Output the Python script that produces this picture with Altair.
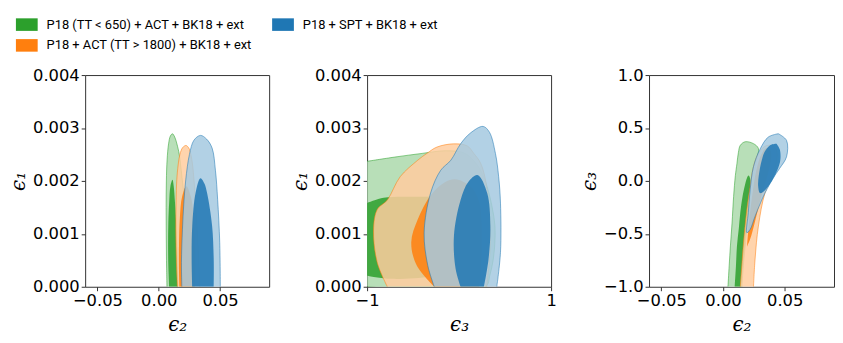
import altair as alt
import pandas as pd

# ---------------- series ----------------
SERIES = [
    "P18 (TT < 650) + ACT + BK18 + ext",
    "P18 + SPT + BK18 + ext",
    "P18 + ACT (TT > 1800) + BK18 + ext",
]
FULL = ["#2ca02c", "#1f77b4", "#ff7f0e"]
LIGHT = ["#abd9ab", "#a5c9e1", "#ffcc9f"]
GREEN, BLUE, ORANGE = 0, 1, 2

# ---------------- panel 1 : eps2 (x) vs eps1 (y) ----------------
P1_GREEN_OUTER = [(0.0067, 0), (0.0063, 0.0005), (0.0061, 0.001), (0.0060, 0.0015), (0.0062, 0.002),
                  (0.0068, 0.0024), (0.0080, 0.0027), (0.0095, 0.00285), (0.0112, 0.00289), (0.0130, 0.00283),
                  (0.0148, 0.0027), (0.0167, 0.0025), (0.0193, 0.002), (0.0218, 0.0015), (0.0240, 0.001),
                  (0.0258, 0.0005), (0.0273, 0)]
P1_GREEN_INNER = [(0.0085, 0), (0.0078, 0.0004), (0.0076, 0.0008), (0.0078, 0.0012), (0.0085, 0.0016),
                  (0.0095, 0.0019), (0.0112, 0.00202), (0.0122, 0.0019), (0.0132, 0.0016), (0.0142, 0.0012),
                  (0.0150, 0.0008), (0.0155, 0.0004), (0.0158, 0)]
P1_ORANGE_OUTER = [(0.0152, 0), (0.0144, 0.00046), (0.0139, 0.00108), (0.0141, 0.0016), (0.0147, 0.00202),
                   (0.0158, 0.0023), (0.0172, 0.0025), (0.0195, 0.00263), (0.0222, 0.00267), (0.0245, 0.00262),
                   (0.0262, 0.0025), (0.0276, 0.0023), (0.0288, 0.002), (0.0302, 0.0015), (0.0314, 0.00108),
                   (0.0327, 0.00046), (0.0335, 0)]
P1_ORANGE_INNER = [(0.0168, 0), (0.0165, 0.0003), (0.0165, 0.0008), (0.0172, 0.0013), (0.0190, 0.0017),
                   (0.0225, 0.0019), (0.0262, 0.0017), (0.0285, 0.0013), (0.0295, 0.0008), (0.0298, 0.0004),
                   (0.0295, 0)]
P1_BLUE_OUTER = [(0.0188, 0), (0.0185, 0.00046), (0.0193, 0.00108), (0.0205, 0.0016), (0.0220, 0.00202),
                 (0.0250, 0.0025), (0.0287, 0.00277), (0.0340, 0.00286), (0.0390, 0.00279), (0.0435, 0.00262),
                 (0.0462, 0.0022), (0.0480, 0.00165), (0.0497, 0.00084), (0.0502, 0)]
P1_BLUE_INNER = [(0.0273, 0), (0.0268, 0.00052), (0.0273, 0.00115), (0.0300, 0.00177), (0.0340, 0.00205),
                 (0.0372, 0.00195), (0.0394, 0.00177), (0.0435, 0.00115), (0.0448, 0.00052), (0.0448, 0)]

# ---------------- panel 2 : eps3 (x) vs eps1 (y) ----------------
P2_GREEN_OUTER = [(-1.0, 0.00237), (-0.7, 0.00245), (-0.4, 0.00252), (-0.15, 0.00257), (0.05, 0.00253),
                  (0.16, 0.00238), (0.24, 0.00218), (0.305, 0.00189), (0.36, 0.0015), (0.39, 0.00115),
                  (0.388, 0.0008), (0.37, 0.0005), (0.335, 0.00022), (0.286, 0), (-1.0, 0)]
P2_GREEN_INNER = [(-1.0, 0.00158), (-0.82, 0.00168), (-0.46, 0.0017), (-0.2, 0.0017), (0.0, 0.00162),
                  (0.1, 0.0014), (0.15, 0.001), (0.12, 0.0006), (0.0, 0.00035), (-0.3, 0.0002),
                  (-0.74, 0.00015), (-1.0, 0.00021)]
P2_ORANGE_OUTER = [(-0.78, 0), (-0.89, 0.00046), (-0.93, 0.00108), (-0.89, 0.00146), (-0.78, 0.00164),
                   (-0.64, 0.00208), (-0.45, 0.00239), (-0.35, 0.00252), (-0.24, 0.00264), (-0.06, 0.0027),
                   (0.09, 0.00266), (0.16, 0.00252), (0.23, 0.00235), (0.28, 0.00208), (0.32, 0.00158),
                   (0.34, 0.00096), (0.325, 0.0004), (0.3, 0)]
P2_ORANGE_INNER = [(-0.27, 0), (-0.46, 0.0004), (-0.52, 0.00084), (-0.45, 0.00127), (-0.3, 0.00175),
                   (-0.15, 0.00198), (-0.05, 0.00203), (0.05, 0.00198), (0.15, 0.00185), (0.22, 0.0016),
                   (0.245, 0.0012), (0.245, 0.0006), (0.23, 0.0002), (0.22, 0)]
P2_BLUE_OUTER = [(-0.27, 0), (-0.34, 0.0004), (-0.38, 0.00102), (-0.31, 0.00177), (-0.2, 0.0022),
                 (-0.09, 0.00239), (0.016, 0.0027), (0.12, 0.0029), (0.26, 0.00303), (0.33, 0.00292),
                 (0.395, 0.00252), (0.43, 0.00208), (0.45, 0.00158), (0.45, 0.00065), (0.41, 0)]
P2_BLUE_INNER = [(0.016, 0), (-0.038, 0.00034), (-0.056, 0.00096), (0.016, 0.00164), (0.1, 0.00198),
                 (0.2, 0.00211), (0.305, 0.00177), (0.34, 0.00115), (0.32, 0.00052), (0.27, 0)]

# ---------------- panel 3 : eps2 (x) vs eps3 (y) ----------------
P3_GREEN_OUTER = [(0.004, -1.0), (0.005, -0.8), (0.006, -0.614), (0.0073, -0.4), (0.0086, -0.147),
                  (0.0100, 0.05), (0.0113, 0.165), (0.0125, 0.27), (0.0140, 0.336), (0.0180, 0.37),
                  (0.0247, 0.352), (0.0287, 0.306), (0.0273, 0.196), (0.0247, 0.009), (0.0207, -0.302),
                  (0.0180, -0.614), (0.0165, -0.8), (0.0153, -1.0)]
P3_GREEN_INNER = [(0.0095, -1.0), (0.0105, -0.8), (0.0113, -0.614), (0.0128, -0.45), (0.0140, -0.302),
                  (0.0158, -0.15), (0.0175, -0.053), (0.0195, 0.03), (0.0207, 0.05), (0.0220, 0.02),
                  (0.0220, -0.1), (0.0207, -0.302), (0.0190, -0.45), (0.0175, -0.614), (0.0160, -0.8),
                  (0.0148, -1.0)]
P3_ORANGE_OUTER = [(0.0140, -1.0), (0.0152, -0.8), (0.0166, -0.582), (0.0193, -0.271), (0.0220, -0.053),
                   (0.0247, 0.134), (0.0287, 0.259), (0.0340, 0.327), (0.0394, 0.336), (0.0434, 0.29),
                   (0.0420, 0.103), (0.0340, -0.115), (0.0287, -0.427), (0.0260, -0.738), (0.0247, -1.0)]
P3_ORANGE_INNER = [(0.0195, -0.62), (0.0210, -0.4), (0.0235, -0.15), (0.0270, 0.1), (0.0310, 0.25),
                   (0.0350, 0.31), (0.0380, 0.30), (0.0390, 0.22), (0.0360, 0.05), (0.0310, -0.15),
                   (0.0260, -0.38), (0.0220, -0.55), (0.0195, -0.62)]
P3_BLUE_OUTER = [(0.0448, 0.446), (0.0515, 0.383), (0.0515, 0.227), (0.0460, 0.12), (0.0420, 0.05),
                 (0.0340, -0.115), (0.0260, -0.334), (0.0220, -0.458), (0.0193, -0.489), (0.0205, -0.3),
                 (0.0220, -0.084), (0.0247, 0.134), (0.0300, 0.30), (0.0367, 0.414), (0.0448, 0.446)]
P3_BLUE_INNER = [(0.0434, 0.352), (0.0460, 0.30), (0.0465, 0.20), (0.0440, 0.10), (0.0380, -0.03),
                 (0.0330, -0.10), (0.0300, -0.115), (0.0285, -0.05), (0.0290, 0.05), (0.0314, 0.196),
                 (0.0340, 0.28), (0.0385, 0.34), (0.0434, 0.352)]

# ---------------- axes ----------------
EPS_X_DOMAIN = [-0.06, 0.09]
EPS_X_TICKS = [-0.05, 0.0, 0.05]
EPS1_DOMAIN = [0.0, 0.004]
EPS1_TICKS = [0.0, 0.001, 0.002, 0.003, 0.004]
EPS3_DOMAIN = [-1.0, 1.0]
EPS3_X_TICKS = [-1, 0, 1]
EPS3_Y_TICKS = [-1.0, -0.5, 0.0, 0.5, 1.0]

LEGEND = alt.Legend(
    orient="none", legendX=-70, legendY=-62, direction="horizontal", columns=2,
    gridAlign="none", title=None, symbolType="M-1,-0.577H1V0.577H-1Z", symbolSize=484,
    symbolOpacity=1, symbolStrokeWidth=0, labelFont="Roboto",
    labelFontSize=13, labelColor="black", labelOffset=9, rowPadding=3, columnPadding=20,
    padding=0, labelLimit=600,
)
FILL_SCALE = alt.Scale(domain=SERIES, range=FULL)


def contour_layer(points, s, level, xenc, yenc):
    df = pd.DataFrame({
        "x": [p[0] for p in points],
        "y": [p[1] for p in points],
        "seq": list(range(len(points))),
        "series": SERIES[s],
    })
    if level == "outer":
        mark = alt.Chart(df).mark_line(
            fill=LIGHT[s], fillOpacity=0.85, stroke=FULL[s], strokeWidth=0.9,
            strokeOpacity=0.6, clip=True, interpolate="catmull-rom")
        return mark.encode(x=xenc, y=yenc, order="seq:Q")
    mark = alt.Chart(df).mark_line(
        fillOpacity=0.85, strokeWidth=0, clip=True, interpolate="catmull-rom")
    return mark.encode(x=xenc, y=yenc, order="seq:Q",
                       fill=alt.Fill("series:N", scale=FILL_SCALE, legend=LEGEND))


def panel(contours, xdom, xticks, xfmt, xtitle, ydom, yticks, yfmt, ytitle, w):
    xenc = alt.X("x:Q", scale=alt.Scale(domain=xdom, nice=False, zero=False),
                 axis=alt.Axis(values=xticks, format=xfmt, title=xtitle, labelFlush=False,
                               titlePadding=6))
    yenc = alt.Y("y:Q", scale=alt.Scale(domain=ydom, nice=False, zero=False),
                 axis=alt.Axis(values=yticks, format=yfmt, title=ytitle, titlePadding=4))
    layers = [contour_layer(p, s, lvl, xenc, yenc) for (p, s, lvl) in contours]
    return alt.layer(*layers).properties(width=w, height=214)


p1 = panel([(P1_GREEN_OUTER, GREEN, "outer"), (P1_GREEN_INNER, GREEN, "inner"),
            (P1_ORANGE_OUTER, ORANGE, "outer"), (P1_ORANGE_INNER, ORANGE, "inner"),
            (P1_BLUE_OUTER, BLUE, "outer"), (P1_BLUE_INNER, BLUE, "inner")],
           EPS_X_DOMAIN, EPS_X_TICKS, ".2f", "ϵ₂", EPS1_DOMAIN, EPS1_TICKS, ".3f", "ϵ₁", 186)
p2 = panel([(P2_GREEN_OUTER, GREEN, "outer"), (P2_GREEN_INNER, GREEN, "inner"),
            (P2_ORANGE_OUTER, ORANGE, "outer"), (P2_ORANGE_INNER, ORANGE, "inner"),
            (P2_BLUE_OUTER, BLUE, "outer"), (P2_BLUE_INNER, BLUE, "inner")],
           EPS3_DOMAIN, EPS3_X_TICKS, "d", "ϵ₃", EPS1_DOMAIN, EPS1_TICKS, ".3f", "ϵ₁", 186)
p3 = panel([(P3_GREEN_OUTER, GREEN, "outer"), (P3_GREEN_INNER, GREEN, "inner"),
            (P3_ORANGE_OUTER, ORANGE, "outer"), (P3_ORANGE_INNER, ORANGE, "inner"),
            (P3_BLUE_OUTER, BLUE, "outer"), (P3_BLUE_INNER, BLUE, "inner")],
           EPS_X_DOMAIN, EPS_X_TICKS, ".2f", "ϵ₂", EPS3_DOMAIN, EPS3_Y_TICKS, ".1f", "ϵ₃", 187)

chart = alt.hconcat(p1, p2, p3, spacing=99, bounds="flush",
                    padding={"left": 0, "top": 4, "right": 0, "bottom": 0}
).resolve_scale(fill="shared").resolve_legend(fill="shared").configure_view(
    stroke="#333333", strokeWidth=1
).configure_axis(
    grid=False, domain=False, tickColor="#333333", tickSize=4, tickWidth=1,
    labelFont="DejaVu Sans", labelFontSize=16.5, labelColor="black", labelPadding=2,
    titleFont="DejaVu Serif", titleFontSize=20, titleFontStyle="italic",
    titleFontWeight="normal", titleColor="black", labelOverlap=False
)

chart.save("out.html", embed_options={"renderer": "svg", "actions": False})
